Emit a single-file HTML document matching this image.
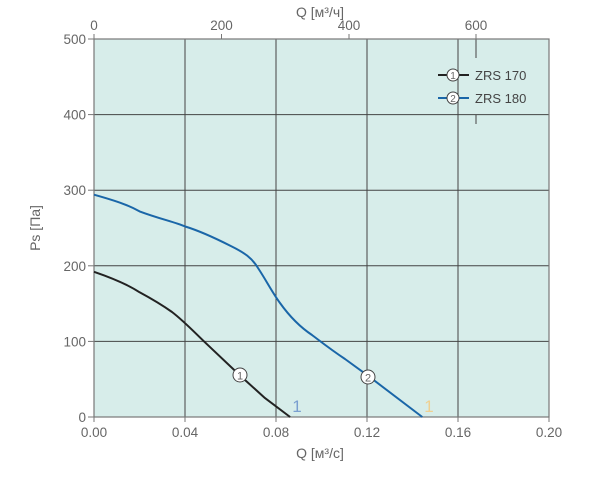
<!DOCTYPE html>
<html><head><meta charset="utf-8"><style>
body{margin:0;background:#fff;}
text{font-family:"Liberation Sans","DejaVu Sans",sans-serif;fill:#666;}
</style></head><body>
<svg width="600" height="472" viewBox="0 0 600 472" xmlns="http://www.w3.org/2000/svg">
<rect x="94" y="39" width="455" height="378" fill="#d7edea"/>
<g stroke="#444" stroke-width="1" fill="none">
<line x1="185" y1="39" x2="185" y2="417"/>
<line x1="276" y1="39" x2="276" y2="417"/>
<line x1="367" y1="39" x2="367" y2="417"/>
<line x1="458" y1="39" x2="458" y2="417"/>
<line x1="94" y1="114.6" x2="549" y2="114.6"/>
<line x1="94" y1="190.2" x2="549" y2="190.2"/>
<line x1="94" y1="265.8" x2="549" y2="265.8"/>
<line x1="94" y1="341.4" x2="549" y2="341.4"/>
<line x1="476" y1="39" x2="476" y2="58"/>
<line x1="476" y1="114.6" x2="476" y2="124"/>
</g>
<rect x="94" y="39" width="455" height="378" fill="none" stroke="#777" stroke-width="1.2"/>
<g stroke="#777" stroke-width="1">
<line x1="88" y1="39" x2="94" y2="39"/><line x1="88" y1="114.6" x2="94" y2="114.6"/><line x1="88" y1="190.2" x2="94" y2="190.2"/><line x1="88" y1="265.8" x2="94" y2="265.8"/><line x1="88" y1="341.4" x2="94" y2="341.4"/><line x1="88" y1="417" x2="94" y2="417"/>
<line x1="94" y1="417" x2="94" y2="422"/><line x1="185" y1="417" x2="185" y2="422"/><line x1="276" y1="417" x2="276" y2="422"/><line x1="367" y1="417" x2="367" y2="422"/><line x1="458" y1="417" x2="458" y2="422"/><line x1="549" y1="417" x2="549" y2="422"/>
<line x1="94" y1="34" x2="94" y2="39"/><line x1="221.5" y1="34" x2="221.5" y2="39"/><line x1="349" y1="34" x2="349" y2="39"/><line x1="476" y1="34" x2="476" y2="39"/>
</g>
<g font-size="13.5" text-anchor="end">
<text x="86" y="44">500</text><text x="86" y="119.6">400</text><text x="86" y="195.2">300</text><text x="86" y="270.8">200</text><text x="86" y="346.4">100</text><text x="86" y="422">0</text>
</g>
<g font-size="13.5" text-anchor="middle">
<text x="94" y="437">0.00</text><text x="185" y="437">0.04</text><text x="276" y="437">0.08</text><text x="367" y="437">0.12</text><text x="458" y="437">0.16</text><text x="549" y="437">0.20</text>
<text x="94" y="30">0</text><text x="221.5" y="30">200</text><text x="349" y="30">400</text><text x="476" y="30">600</text>
<text x="320" y="458" font-size="14">Q [м³/с]</text>
<text x="320" y="17" font-size="14">Q [м³/ч]</text>
<text transform="translate(40,228) rotate(-90)" font-size="14">Ps [Па]</text>
</g>
<path d="M94,271.8 C115,279 130,286 139.6,292.3 C152,299 162,305 172,312 C185,322 195,333 208,345.2 L239.9,375.4 L265,398.1 L290.1,417" fill="none" stroke="#222" stroke-width="2" stroke-linejoin="round"/>
<path d="M94,194.7 C120,202 130,206 139.6,211.4 C160,219 175,222 185.2,226.5 C200,231 215,238 230.8,246 C245,253 252,258 258,268 C266,280 272,292 280,303 C290,317 300,327 312,335 C320,341 330,349 345,359 L367.6,375.4 L422.3,417" fill="none" stroke="#1a66a8" stroke-width="2" stroke-linejoin="round"/>
<circle cx="240" cy="375" r="7" fill="#fff" stroke="#444"/><text x="240" y="379.5" font-size="11" text-anchor="middle" fill="#333">1</text>
<circle cx="368" cy="377" r="7" fill="#fff" stroke="#444"/><text x="368" y="381.5" font-size="11" text-anchor="middle" fill="#333">2</text>
<text x="297" y="412" font-size="17" text-anchor="middle" style="fill:#7a9fd0">1</text>
<text x="429" y="412" font-size="17" text-anchor="middle" style="fill:#f0d090">1</text>
<line x1="438" y1="75" x2="469" y2="75" stroke="#222" stroke-width="2"/>
<circle cx="453" cy="75" r="6" fill="#fff" stroke="#444"/><text x="453" y="79" font-size="10" text-anchor="middle" fill="#333">1</text>
<text x="475" y="80" font-size="13" style="fill:#444">ZRS 170</text>
<line x1="438" y1="98" x2="469" y2="98" stroke="#1a66a8" stroke-width="2"/>
<circle cx="453" cy="98" r="6" fill="#fff" stroke="#444"/><text x="453" y="102" font-size="10" text-anchor="middle" fill="#333">2</text>
<text x="475" y="103" font-size="13" style="fill:#444">ZRS 180</text>
</svg>
</body></html>
